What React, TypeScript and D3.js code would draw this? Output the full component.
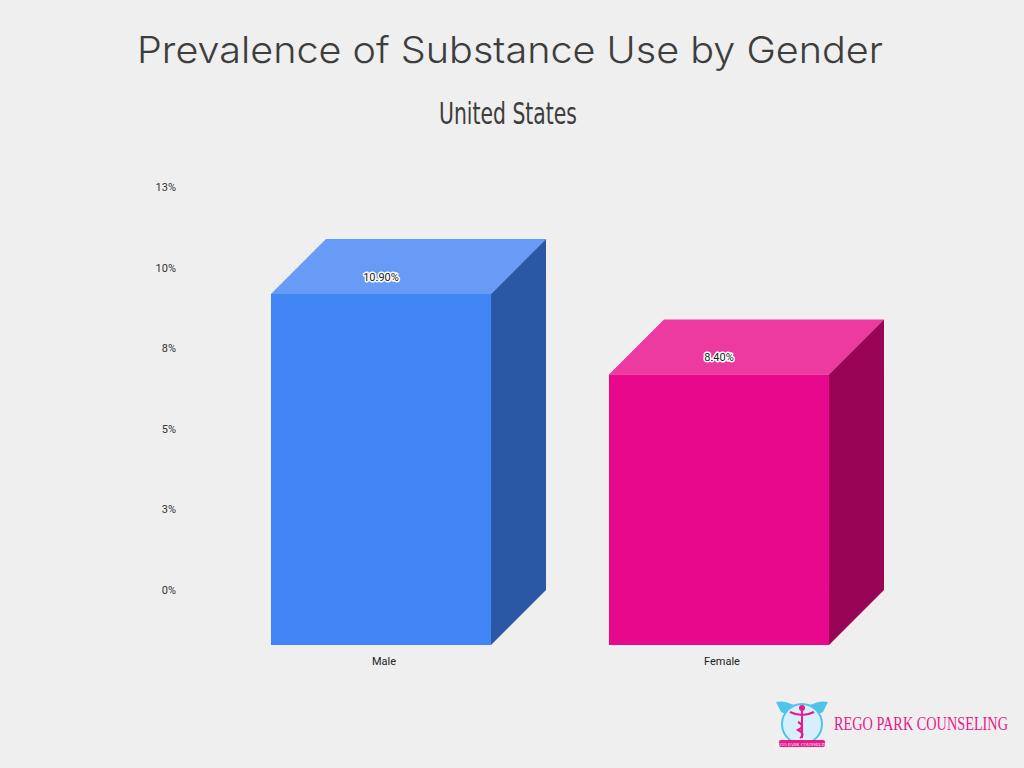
import React from 'react';
import * as d3 from 'd3';

const categories = ['Male', 'Female'];
const values = [10.9, 8.4];
const valueLabels = ['10.90%', '8.40%'];
const tickValues = [0, 2.5, 5, 7.5, 10, 12.5];

const faceColors = [
  { front: '#4285F4', top: '#679BF6', side: '#2B58A4' },
  { front: '#E8088C', top: '#EC3AA1', side: '#980556' },
];

const W = 1024;
const H = 768;
const depth = 55;

export default function App() {
  // back plane of the 3D bars carries the value scale
  const y = d3.scaleLinear().domain([0, 12.5]).range([590, 187.4]);
  const x = d3.scaleBand<string>().domain(categories).range([212, 888]).paddingInner(0.349).paddingOuter(0.1745);
  const bw = x.bandwidth();
  const fmt = d3.format('.0f');

  return (
    <div style={{ position: 'absolute', left: 0, top: 0, width: W, height: H, overflow: 'hidden' }}>
      <svg width={W} height={H} style={{ display: 'block', background: '#EFEFEF' }}>
        <text x={510} y={63} textAnchor="middle" fill="#3D3D3D" fontSize={37}
          fontFamily="Inter, 'Open Sans', sans-serif" fontWeight={300}
          textLength={746} lengthAdjust="spacingAndGlyphs">
          Prevalence of Substance Use by Gender
        </text>
        <text x={508} y={124} textAnchor="middle" fill="#3D3D3D" fontSize={31}
          fontFamily="'DejaVu Sans Condensed', 'Liberation Sans Narrow', sans-serif"
          textLength={138} lengthAdjust="spacingAndGlyphs">
          United States
        </text>

        {tickValues.map((t) => (
          <text key={t} x={176} y={y(t)} dy="0.35em" textAnchor="end" fontSize={11}
            fill="#333" fontFamily="Roboto, Arial, sans-serif">
            {fmt(t)}%
          </text>
        ))}

        {categories.map((c, i) => {
          const fx0 = x(c) as number;
          const fx1 = fx0 + bw;
          const bTop = y(values[i]);
          const bBot = y(0);
          const fTop = bTop + depth;
          const fBot = bBot + depth;
          const col = faceColors[i];
          return (
            <g key={c}>
              <polygon fill={col.top}
                points={`${fx0},${fTop} ${fx0 + depth},${bTop} ${fx1 + depth},${bTop} ${fx1},${fTop}`} />
              <polygon fill={col.side}
                points={`${fx1},${fTop} ${fx1 + depth},${bTop} ${fx1 + depth},${bBot} ${fx1},${fBot}`} />
              <rect x={fx0} y={fTop} width={bw} height={fBot - fTop} fill={col.front} />
              <text x={fx0 + bw / 2} y={fTop - 17} dy="0.35em" textAnchor="middle" fontSize={11}
                fill="#222" stroke="#fff" strokeWidth={3} paintOrder="stroke" strokeLinejoin="round"
                fontFamily="Roboto, Arial, sans-serif">
                {valueLabels[i]}
              </text>
              <text x={fx0 + bw / 2 + 3} y={fBot + 16} dy="0.35em" textAnchor="middle" fontSize={11}
                fill="#222" fontFamily="Roboto, Arial, sans-serif">
                {c}
              </text>
            </g>
          );
        })}

        {/* logo */}
        <g>
          <path d="M776,702 Q790,699 802,712 Q790,717 781,712 Z" fill="#4FC3EA" />
          <path d="M828,702 Q814,699 802,712 Q814,717 823,712 Z" fill="#4FC3EA" />
          <circle cx={802} cy={724} r={20} fill="#D6EFFB" stroke="#4FC3EA" strokeWidth={2} />
          <circle cx={802} cy={708} r={3} fill="#E8198B" />
          <path d="M790,712 Q802,718 814,712 M802,711 L802,738 M798,722 Q806,726 798,730 Q806,734 800,738"
            stroke="#E8198B" strokeWidth={2} fill="none" />
          <rect x={779} y={740} width={46} height={7} rx={2} fill="#E8198B" />
          <text x={802} y={745.5} textAnchor="middle" fontSize={4.5} fill="#fff"
            fontFamily="'Liberation Serif', serif">REGO PARK COUNSELING</text>
          <text transform="translate(834,730) scale(1,1.2)" fontSize={15} fill="#E8198B"
            fontFamily="'Liberation Serif', 'DejaVu Serif', serif"
            textLength={174} lengthAdjust="spacingAndGlyphs">
            REGO PARK COUNSELING
          </text>
        </g>
      </svg>
    </div>
  );
}
